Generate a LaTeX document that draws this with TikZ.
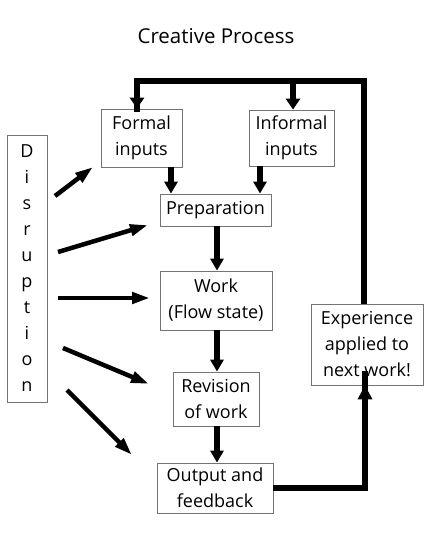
\documentclass[tikz,border=0pt]{standalone}
\usepackage{fontspec}
\setmainfont{Open Sans}
\usetikzlibrary{arrows.meta}
\begin{document}
\begin{tikzpicture}[x=1pt,y=-1pt,
  box/.style={draw=black!55, line width=0.8pt, fill=white, inner sep=0pt, align=center,
    font=\fontsize{18}{26}\selectfont},
  flow/.style={line width=5.5pt, -{Triangle[width=13pt,length=12pt]}},
  loop/.style={line width=6pt},
  dis/.style={line width=4.5pt, -{Triangle[width=11pt,length=18pt]}}]
\useasboundingbox (0,0) rectangle (431,538);
\node[font=\fontsize{20.5}{24}\selectfont] (title) at (216,36) {Creative Process};
\node[box, minimum width=81pt, minimum height=58pt] (formal) at (141.5,138) {Formal\\inputs};
\node[box, minimum width=85pt, minimum height=56pt] (informal) at (291.5,138) {Informal\\inputs};
\node[box, minimum width=111pt, minimum height=32pt] (prep) at (215.5,210) {Preparation};
\node[box, minimum width=112pt, minimum height=59pt] (work) at (216,300.5) {Work\\(Flow state)};
\node[box, minimum width=86pt, minimum height=54pt] (rev) at (216,399) {Revision\\of work};
\node[box, minimum width=116pt, minimum height=50pt] (out) at (215,488) {Output and\\feedback};
\node[box, minimum width=112pt, minimum height=81pt] (exp) at (367,344.5) {Experience\\applied to\\next work!};
\node[box, minimum width=40pt, minimum height=267pt] (dis) at (27,268.5) {D\\i\\s\\r\\u\\p\\t\\i\\o\\n};
% flows
\draw[flow] (formal.south -| 171,0) -- (prep.north -| 171,0);
\draw[flow] (informal.south -| 260,0) -- (prep.north -| 260,0);
\draw[flow] (prep.south -| 217,0) -- (work.north -| 217,0);
\draw[flow] (work.south -| 217,0) -- (rev.north -| 217,0);
\draw[flow] (rev.south -| 217,0) -- (out.north -| 217,0);
% loop
\coordinate (c1) at (365,488);
\coordinate (c2) at (364,81);
\coordinate (c3) at (137,81);
\coordinate (c4) at (293,81);
\draw[loop, line join=miter] (out.east |- c1) -- (c1) -- ([yshift=14pt]exp.south -| c1);
\draw[loop, -{Triangle[width=14pt,length=14pt]}] (c1) -- (exp.south -| c1);
\draw[loop, line join=miter] (exp.north -| c2) -- (c2) -- (c3) -- ([yshift=-3pt]c3 |- formal.north);
\draw[flow, line width=6pt, -{Triangle[width=14pt,length=11pt]}] ([yshift=-3pt]c3) -- (c3 |- formal.north);
\draw[flow, line width=6pt, -{Triangle[width=14pt,length=11pt]}] ([yshift=-3pt]c4) -- (c4 |- informal.north);
% disruption arrows
\coordinate (d1) at (55,196); \coordinate (e1) at (93,167);
\coordinate (d2) at (58,252); \coordinate (e2) at (148,225);
\coordinate (d3) at (58,298); \coordinate (e3) at (150,298);
\coordinate (d4) at (63,348); \coordinate (e4) at (149,384);
\coordinate (d5) at (67,390); \coordinate (e5) at (132,455);
\draw[dis] (d1) -- (e1);
\draw[dis] (d2) -- (e2);
\draw[dis] (d3) -- (e3);
\draw[dis] (d4) -- (e4);
\draw[dis] (d5) -- (e5);
\end{tikzpicture}
\end{document}
